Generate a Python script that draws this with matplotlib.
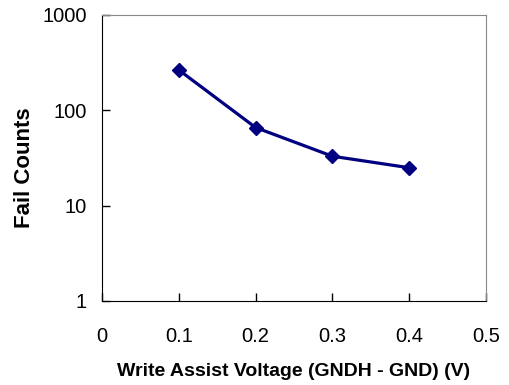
import numpy as np
import matplotlib.pyplot as plt

plt.rcParams['font.family'] = ['Liberation Sans', 'DejaVu Sans']

voltage = [0.1, 0.2, 0.3, 0.4]
fail_counts = [265, 66, 33, 25]
x_ticks = [0, 0.1, 0.2, 0.3, 0.4, 0.5]
y_ticks = [1, 10, 100, 1000]

fig = plt.figure(figsize=(5.09, 3.85), dpi=100)
ax = fig.add_axes([102 / 509, 1 - 301 / 385, 384 / 509, 286 / 385])

ax.plot(voltage, fail_counts, color='#000080', lw=2.3, marker='D', ms=7.5)

ax.set_yscale('log')
ax.set_xlim(0, 0.5)
ax.set_ylim(1, 1000)
ax.set_xticks(x_ticks)
ax.set_xticklabels(['0', '0.1', '0.2', '0.3', '0.4', '0.5'])
ax.set_yticks(y_ticks)
ax.set_yticklabels(['1', '10', '100', '1000'])
ax.minorticks_off()
ax.tick_params(axis='both', direction='in', length=6, width=1, labelsize=14.5)
ax.tick_params(axis='x', pad=19)
ax.tick_params(axis='y', pad=11)

for s in ['top', 'right']:
    ax.spines[s].set_color('#888888')
for s in ['left', 'bottom']:
    ax.spines[s].set_color('black')

ax.set_xlabel('Write Assist Voltage (GNDH - GND) (V)', fontsize=14, fontweight='bold', labelpad=12)
ax.set_ylabel('Fail Counts', fontsize=16, fontweight='bold', va='center')
ax.yaxis.set_label_coords(-0.203, 0.465)

fig.savefig('out.png', dpi=100)
